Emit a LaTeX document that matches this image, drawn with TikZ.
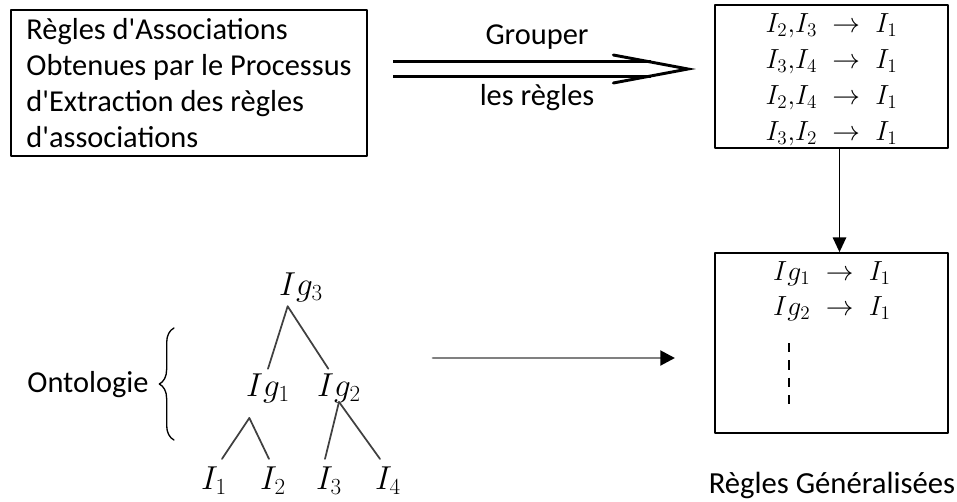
\documentclass[tikz,border=0pt]{standalone}
\usepackage{fontspec}
\setmainfont{Carlito}
\usetikzlibrary{arrows.meta,decorations.pathreplacing}
\begin{document}
\begin{tikzpicture}[line cap=round,line join=round,x=0.75pt,y=-0.75pt,font=\fontsize{22.8}{27}\selectfont,
	boite/.style={draw,line width=1.3pt,inner sep=0pt},
	formule/.style={font=\fontsize{24}{27}\selectfont},
	branche/.style={line width=1.3pt,color=black!75},
	grouper/.style={double,double distance=9pt,line width=2.2pt,line cap=butt},
	fleche/.style={line width=1.2pt,-{Triangle[length=11pt,width=10pt]}},
	feuille/.style={formule,inner sep=2pt}]
	\useasboundingbox (0,0) rectangle (957,501);
	\node[boite,minimum width=267pt,minimum height=109.5pt,align=left] (extraction) at (189,83)
		{R\`egles d\textquotesingle Associations\\Obtenues par le Processus\\d\textquotesingle Extraction des r\`egles\\d\textquotesingle associations};
	\node[boite,minimum width=174.75pt,minimum height=107.25pt] (regles) at (831.5,76.5) {};
	\node[align=center,font=\fontsize{22}{27}\selectfont] (reglestxt) at (831.5,80)
		{$I_2{,}I_3 \;\rightarrow\; I_1$\\$I_3{,}I_4 \;\rightarrow\; I_1$\\$I_2{,}I_4 \;\rightarrow\; I_1$\\$I_3{,}I_2 \;\rightarrow\; I_1$};
	\node[boite,minimum width=174.75pt,minimum height=135pt] (gen) at (831.5,343) {};
	\node[align=center,anchor=north,font=\fontsize{22}{26}\selectfont] (genregles) at (832,257) {$Ig_1 \;\rightarrow\; I_1$\\$Ig_2 \;\rightarrow\; I_1$};
	\draw [line width=1pt,line cap=butt,dash pattern=on 7pt off 6pt] (789,343) -- (789,404);
	\node[font=\fontsize{23}{27}\selectfont] (titregen) at (832,485) {R\`egles G\'en\'eralis\'ees};
	\coordinate (grpA) at (393,69);
	\coordinate (grpB) at (688,69);
	\draw [grouper] (grpA) -- ([xshift=-28pt]grpB);
	\draw [line width=2.2pt,line join=miter] ([xshift=-56pt,yshift=10.5pt]grpB) -- (grpB) -- ([xshift=-56pt,yshift=-10.5pt]grpB);
	\node (grp1) at (537,37) {Grouper};
	\node (grp2) at (537,98) {les r\`egles};
	\draw [fleche] ([xshift=6pt]regles.south) -- ([xshift=6pt]gen.north);
	\node[formule] (ig3) at (301,287) {$Ig_3$};
	\node[formule] (ig1) at (268,388) {$Ig_1$};
	\node[formule] (ig2) at (339,388) {$Ig_2$};
	\node[feuille] (i1) at (214,481) {$I_1$};
	\node[feuille] (i2) at (273,481) {$I_2$};
	\node[feuille] (i3) at (329,481) {$I_3$};
	\node[feuille] (i4) at (388,481) {$I_4$};
	\draw [branche] ([xshift=-10pt]ig3.south) -- (ig1.north);
	\draw [branche] ([xshift=-10pt]ig3.south) -- ([xshift=-8pt]ig2.north);
	\draw [branche] ([xshift=-14pt,yshift=-8pt]ig1.south) -- ([xshift=6pt,yshift=4pt]i1.north);
	\draw [branche] ([xshift=-14pt,yshift=-8pt]ig1.south) -- ([xshift=-3pt,yshift=4pt]i2.north);
	\draw [branche] ([yshift=4pt]ig2.south) -- ([xshift=-3pt,yshift=4pt]i3.north);
	\draw [branche] ([yshift=4pt]ig2.south) -- ([xshift=-6pt,yshift=4pt]i4.north);
	\node (onto) at (88,385) {Ontologie};
	\draw [line width=1pt,decorate,decoration={brace,amplitude=11pt}] (174,440) -- (174,328);
	\coordinate (ontoA) at (433,358);
	\coordinate (ontoB) at (675,358);
	\draw [line width=2.2pt,color=black!50,-{Triangle[length=11pt,width=11pt,color=black]}] (ontoA) -- (ontoB);
\end{tikzpicture}
\end{document}
